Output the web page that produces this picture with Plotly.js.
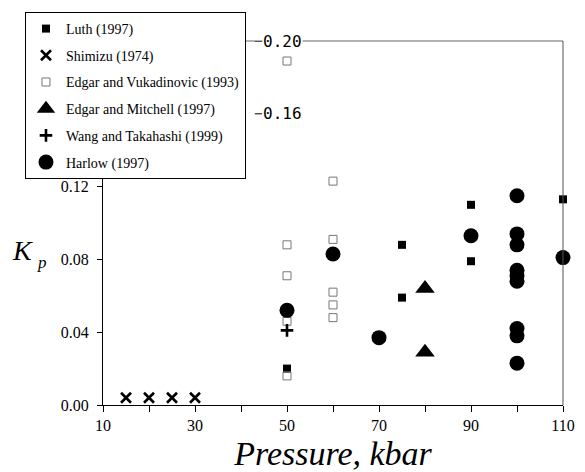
<!DOCTYPE html>
<html>
<head>
<meta charset="utf-8">
<script src="https://cdn.plot.ly/plotly-3.0.1.min.js"></script>
<style>html,body{margin:0;padding:0;background:#fff;}#chart{width:585px;height:472px;}</style>
</head>
<body>
<div id="chart"></div>
<script>
// Data
const luthX = [50, 75, 75, 90, 90, 110];
const luthY = [0.020, 0.088, 0.059, 0.110, 0.079, 0.113];
const shimizuX = [15, 20, 25, 30];
const shimizuY = [0.004, 0.004, 0.004, 0.004];
const edgarVukX = [50, 50, 50, 50, 50, 60, 60, 60, 60, 60];
const edgarVukY = [0.189, 0.088, 0.071, 0.046, 0.016, 0.123, 0.091, 0.062, 0.055, 0.048];
const edgarMitX = [80, 80];
const edgarMitY = [0.064, 0.029];
const wangX = [50];
const wangY = [0.041];
const harlowX = [50, 60, 70, 90, 100, 100, 100, 100, 100, 100, 100, 100, 100, 110];
const harlowY = [0.052, 0.083, 0.037, 0.093, 0.115, 0.094, 0.088, 0.074, 0.071, 0.068, 0.042, 0.038, 0.023, 0.081];

const seriesNames = ["Luth (1997)", "Shimizu (1974)", "Edgar and Vukadinovic (1993)",
  "Edgar and Mitchell (1997)", "Wang and Takahashi (1999)", "Harlow (1997)"];
const xTickVals = [10, 20, 30, 40, 50, 60, 70, 80, 90, 100, 110];
const xTickText = ["10", "", "30", "", "50", "", "70", "", "90", "", "110"];
const yTickVals = [0, 0.04, 0.08, 0.12];
const yTickText = ["0.00", "0.04", "0.08", "0.12"];
const yHiddenVals = [0.20, 0.16];
const yHiddenText = ["0.20", "0.16"];

const serif = "Liberation Serif";

function tr(x, y, i, marker) {
  return {x: x, y: y, name: seriesNames[i], type: "scatter", mode: "markers",
    legendgroup: "g" + i, cliponaxis: false, marker: marker};
}

const data = [
  tr(luthX, luthY, 0, {symbol: "square", size: 8, color: "#000"}),
  tr(shimizuX, shimizuY, 1, {symbol: "x-thin-open", size: 10, color: "#000", line: {width: 2.6, color: "#000"}}),
  tr(edgarVukX, edgarVukY, 2, {symbol: "square-open", size: 8, color: "#777", line: {width: 1, color: "#777"}}),
  tr(edgarMitX, edgarMitY, 3, {symbol: "triangle-up", size: 17, color: "#000"}),
  tr(wangX, wangY, 4, {symbol: "cross-thin-open", size: 9, color: "#000", line: {width: 2.6, color: "#000"}}),
  tr(harlowX, harlowY, 5, {symbol: "circle", size: 15, color: "#000"})
];

const annotations = yHiddenVals.map((v, i) => ({
  xref: "paper", yref: "y", x: 0.3457, y: v, xanchor: "left", yanchor: "middle",
  text: yHiddenText[i], showarrow: false, bgcolor: "#fff", borderpad: 0,
  font: {family: "DejaVu Sans Mono", size: 16, color: "#000"}
}));
annotations.push({
  xref: "paper", yref: "y", x: -0.176, y: 0.0848, xanchor: "center", yanchor: "middle",
  text: "<i>K</i>", showarrow: false, font: {family: serif, size: 28, color: "#000"}
});
annotations.push({
  xref: "paper", yref: "y", x: -0.133, y: 0.0785, xanchor: "center", yanchor: "middle",
  text: "<i>p</i>", showarrow: false, font: {family: serif, size: 17, color: "#000"}
});

const shapes = [
  {type: "line", xref: "paper", yref: "paper", x0: 0, x1: 1, y0: 1, y1: 1, line: {color: "#666", width: 1}},
  {type: "line", xref: "paper", yref: "paper", x0: 1, x1: 1, y0: 0, y1: 1, line: {color: "#555", width: 1}}
].concat(yHiddenVals.map(v => ({
  type: "line", xref: "paper", yref: "y", x0: 0.330, x1: 0.3457, y0: v, y1: v,
  line: {color: "#000", width: 1}
})));

const layout = {
  width: 585, height: 472,
  margin: {l: 103, r: 22, t: 41, b: 67},
  paper_bgcolor: "#fff", plot_bgcolor: "#fff",
  showlegend: true,
  legend: {
    x: -0.1696, y: 1.0797, xanchor: "left", yanchor: "top",
    bgcolor: "#fff", bordercolor: "#000", borderwidth: 1,
    font: {family: serif, size: 14, color: "#000"},
    tracegroupgap: 5.5, itemsizing: "trace"
  },
  xaxis: {
    range: [10, 110], tickmode: "array", tickvals: xTickVals, ticktext: xTickText,
    ticks: "outside", ticklen: 6, tickcolor: "#000", tickwidth: 1,
    showline: true, linecolor: "#000", linewidth: 1, showgrid: false, zeroline: false,
    tickfont: {family: serif, size: 16, color: "#000"},
    title: {text: "<i>Pressure, kbar</i>", font: {family: serif, size: 34, color: "#000"}, standoff: 10},
    automargin: false
  },
  yaxis: {
    range: [0, 0.20], tickmode: "array", tickvals: yTickVals, ticktext: yTickText,
    ticks: "outside", ticklen: 5, tickcolor: "#000", tickwidth: 1,
    showline: true, linecolor: "#000", linewidth: 1, showgrid: false, zeroline: false,
    tickfont: {family: serif, size: 16, color: "#000"}, ticklabelstandoff: 5,
    automargin: false
  },
  annotations: annotations,
  shapes: shapes
};

Plotly.newPlot("chart", data, layout, {displayModeBar: false, staticPlot: true});
</script>
</body>
</html>
